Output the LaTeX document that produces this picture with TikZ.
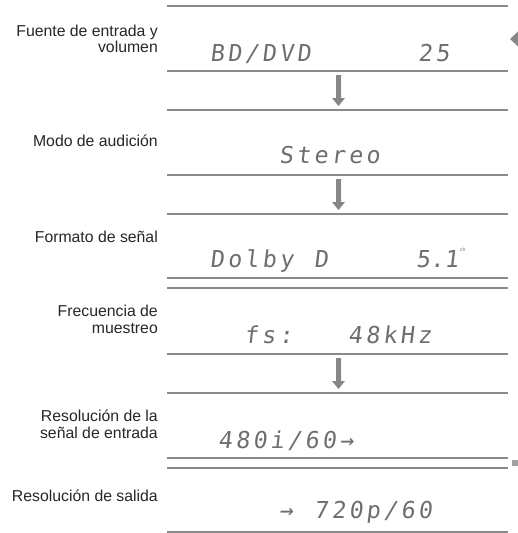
\documentclass[tikz,border=0pt]{standalone}
\usepackage{fontspec}
\setmainfont{Liberation Sans}
\newfontfamily\dmfont[FakeSlant=0.12,LetterSpace=14.2]{DejaVu Sans Mono}
\newfontfamily\dmfontnarrow[FakeSlant=0.12]{DejaVu Sans Mono}
\definecolor{rulegray}{HTML}{8A8A8A}
\definecolor{arrgray}{HTML}{878787}
\definecolor{dotgray}{HTML}{6E6E6E}
\begin{document}
\begin{tikzpicture}[x=1pt,y=-1pt,
  lbl/.style={anchor=base east, inner sep=0pt, font=\fontsize{15.8}{16}\selectfont, text=black!85},
  disp/.style={anchor=base west, inner sep=0pt, font=\dmfont\fontsize{23.3}{24}\selectfont, text=dotgray},
  dispn/.style={anchor=base west, inner sep=0pt, font=\dmfontnarrow\fontsize{23.3}{24}\selectfont, text=dotgray},
  rulel/.style={draw=rulegray, line width=1.4pt},
  downarr/.style={fill=arrgray, draw=none}]
\useasboundingbox (0,0) rectangle (518,533);
% horizontal rules
\foreach \yy in {6,71,110,175,214,278,288,354,393,458,468,532}
  \draw[rulel] (167,\yy) -- (508,\yy);
% labels
\node[lbl] (l1a) at (158,36) {Fuente de entrada y};
\node[lbl] (l1b) at (158,52) {volumen};
\node[lbl] (l2) at (158,146) {Modo de audición};
\node[lbl] (l3) at (158,242) {Formato de señal};
\node[lbl] (l4a) at (158,316) {Frecuencia de};
\node[lbl] (l4b) at (158,333) {muestreo};
\node[lbl] (l5a) at (158,421) {Resolución de la};
\node[lbl] (l5b) at (158,438) {señal de entrada};
\node[lbl] (l6) at (158,501) {Resolución de salida};
% display texts
\node[disp] (d1a) at (210,61) {BD/DVD};
\node[disp] (d1b) at (418,61) {25};
\node[disp] (d2) at (279,163) {Stereo};
\node[disp] (d3a) at (210,267) {Dolby};
\node[disp] (d3b) at (314,267) {D};
\node[dispn] (d3c) at (416,267) {5.1};
\node[anchor=base west, inner sep=0pt, font=\fontsize{5}{5}\selectfont, text=dotgray] (d3d) at (460,251) {ch};
\node[disp] (d4a) at (244,343) {fs:};
\node[disp] (d4b) at (348,343) {48kHz};
\node[disp] (d5) at (218,448) {480i/60→};
\node[disp] (d6a) at (279,518) {→};
\node[disp] (d6b) at (314,518) {720p/60};
% down arrows
\foreach \t in {75,179,358}
  \fill[downarr] (336,\t) -- (341,\t) -- (341,\t+23) -- (345,\t+23)
     -- (338.5,\t+31) -- (332,\t+23) -- (336,\t+23) -- cycle;
% side markers
\fill[arrgray] (510,39) -- (518,31.5) -- (518,46.5) -- cycle;
\fill[rulegray!80] (512,460) rectangle (518,466);
\end{tikzpicture}
\end{document}
